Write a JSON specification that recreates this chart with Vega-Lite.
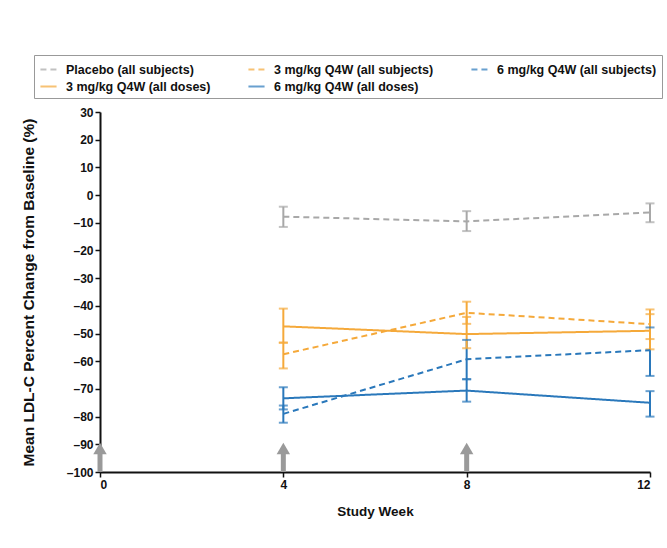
{
  "$schema": "https://vega.github.io/schema/vega-lite/v6.json",
  "width": 550,
  "height": 360,
  "autosize": "none",
  "padding": {"left": 100, "top": 112, "right": 17, "bottom": 76},
  "background": "white",
  "config": {
    "view": {"stroke": null},
    "font": "Liberation Sans",
    "axis": {
      "grid": false,
      "domainColor": "#111",
      "domainWidth": 2,
      "tickColor": "#111",
      "tickWidth": 1.5,
      "tickSize": 5,
      "labelColor": "#111",
      "labelFontSize": 12,
      "labelFontWeight": "bold",
      "labelFont": "Liberation Sans",
      "labelOverlap": false,
      "titleFont": "Liberation Sans",
      "titleFontWeight": "bold",
      "titleColor": "#111"
    }
  },
  "datasets": {
    "series": [
      {"group": "Placebo (all subjects)", "week": 4, "mean": -7.8, "lo": -11.5, "hi": -4.2},
      {"group": "Placebo (all subjects)", "week": 8, "mean": -9.5, "lo": -13, "hi": -5.8},
      {"group": "Placebo (all subjects)", "week": 12, "mean": -6.3, "lo": -9.8, "hi": -3},
      {"group": "3 mg/kg Q4W (all subjects)", "week": 4, "mean": -57.5, "lo": -62.6, "hi": -53.3},
      {"group": "3 mg/kg Q4W (all subjects)", "week": 8, "mean": -42.5, "lo": -46.5, "hi": -38.5},
      {"group": "3 mg/kg Q4W (all subjects)", "week": 12, "mean": -46.6, "lo": -52, "hi": -41.3},
      {"group": "6 mg/kg Q4W (all subjects)", "week": 4, "mean": -79, "lo": -82.2, "hi": -76},
      {"group": "6 mg/kg Q4W (all subjects)", "week": 8, "mean": -59.3, "lo": -66.5, "hi": -52.3},
      {"group": "6 mg/kg Q4W (all subjects)", "week": 12, "mean": -56, "lo": -65.3, "hi": -47.8},
      {"group": "3 mg/kg Q4W (all doses)", "week": 4, "mean": -47.4, "lo": -53.3, "hi": -41},
      {"group": "3 mg/kg Q4W (all doses)", "week": 8, "mean": -50.2, "lo": -55.3, "hi": -44},
      {"group": "3 mg/kg Q4W (all doses)", "week": 12, "mean": -49, "lo": -55.7, "hi": -43},
      {"group": "6 mg/kg Q4W (all doses)", "week": 4, "mean": -73.4, "lo": -77.4, "hi": -69.4},
      {"group": "6 mg/kg Q4W (all doses)", "week": 8, "mean": -70.6, "lo": -74.6, "hi": -66.5},
      {"group": "6 mg/kg Q4W (all doses)", "week": 12, "mean": -75, "lo": -80, "hi": -70.8}
    ],
    "doses": [
      {"week": 0, "base": -100, "shaft": -93, "head": -91.5},
      {"week": 4, "base": -100, "shaft": -93, "head": -91.5},
      {"week": 8, "base": -100, "shaft": -93, "head": -91.5}
    ]
  },
  "encoding": {
    "x": {
      "field": "week", "type": "quantitative",
      "scale": {"domain": [0, 12], "nice": false, "zero": false},
      "axis": {"values": [0, 4, 8, 12], "title": "Study Week", "titlePadding": 14, "titleFontSize": 13.5}
    }
  },
  "layer": [
    {
      "data": {"name": "doses"},
      "mark": {"type": "rule", "color": "#9a9a9a", "strokeWidth": 5},
      "encoding": {
        "y": {
          "field": "base", "type": "quantitative",
          "scale": {"domain": [-100, 30], "nice": false},
          "axis": {"values": [-100, -90, -80, -70, -60, -50, -40, -30, -20, -10, 0, 10, 20, 30], "tickCount": 14, "labelExpr": "datum.value < 0 ? '–' + abs(datum.value) : '' + datum.value", "title": "Mean LDL-C Percent Change from Baseline (%)", "titlePadding": 30, "titleFontSize": 15.5}
        },
        "y2": {"field": "shaft"}
      }
    },
    {
      "data": {"name": "doses"},
      "mark": {"type": "point", "shape": "triangle-up", "filled": true, "color": "#9a9a9a", "size": 180, "opacity": 1},
      "encoding": {
        "y": {"field": "head", "type": "quantitative"}
      }
    },
    {
      "data": {"name": "series"},
      "mark": {"type": "rule", "strokeWidth": 2},
      "encoding": {
        "y": {"field": "lo", "type": "quantitative"},
        "y2": {"field": "hi"},
        "color": {"field": "group", "type": "nominal"}
      }
    },
    {
      "data": {"name": "series"},
      "mark": {"type": "tick", "orient": "horizontal", "size": 9, "thickness": 2},
      "encoding": {
        "y": {"field": "lo", "type": "quantitative"},
        "color": {"field": "group", "type": "nominal"}
      }
    },
    {
      "data": {"name": "series"},
      "mark": {"type": "tick", "orient": "horizontal", "size": 9, "thickness": 2},
      "encoding": {
        "y": {"field": "hi", "type": "quantitative"},
        "color": {"field": "group", "type": "nominal"}
      }
    },
    {
      "data": {"name": "series"},
      "mark": {"type": "line", "strokeWidth": 2},
      "encoding": {
        "y": {"field": "mean", "type": "quantitative"},
        "color": {
          "field": "group", "type": "nominal",
          "scale": {
            "domain": ["Placebo (all subjects)", "3 mg/kg Q4W (all subjects)", "6 mg/kg Q4W (all subjects)", "3 mg/kg Q4W (all doses)", "6 mg/kg Q4W (all doses)"],
            "range": ["#a8a8a8", "#f5a93a", "#2a78bb", "#f5a93a", "#2a78bb"]
          },
          "legend": {
            "title": null,
            "orient": "none",
            "legendX": -66,
            "legendY": -57,
            "columns": 3,
            "direction": "horizontal",
            "gridAlign": "each",
            "columnPadding": 33,
            "rowPadding": 1,
            "symbolType": "stroke",
            "symbolSize": 260,
            "symbolStrokeWidth": 2,
            "labelFontSize": 12.5,
            "labelFontWeight": "bold",
            "labelColor": "#111",
            "labelOffset": 8,
            "strokeColor": "#999",
            "padding": 5
          }
        },
        "strokeDash": {
          "field": "group", "type": "nominal",
          "scale": {
            "domain": ["Placebo (all subjects)", "3 mg/kg Q4W (all subjects)", "6 mg/kg Q4W (all subjects)", "3 mg/kg Q4W (all doses)", "6 mg/kg Q4W (all doses)"],
            "range": [[6, 4], [6, 4], [6, 4], [1, 0], [1, 0]]
          },
          "legend": {
            "title": null,
            "orient": "none",
            "legendX": -66,
            "legendY": -57,
            "columns": 3,
            "direction": "horizontal",
            "gridAlign": "each",
            "columnPadding": 33,
            "rowPadding": 1,
            "symbolType": "stroke",
            "symbolSize": 260,
            "symbolStrokeWidth": 2,
            "labelFontSize": 12.5,
            "labelFontWeight": "bold",
            "labelColor": "#111",
            "labelOffset": 8,
            "strokeColor": "#999",
            "padding": 5
          }
        }
      }
    }
  ]
}
